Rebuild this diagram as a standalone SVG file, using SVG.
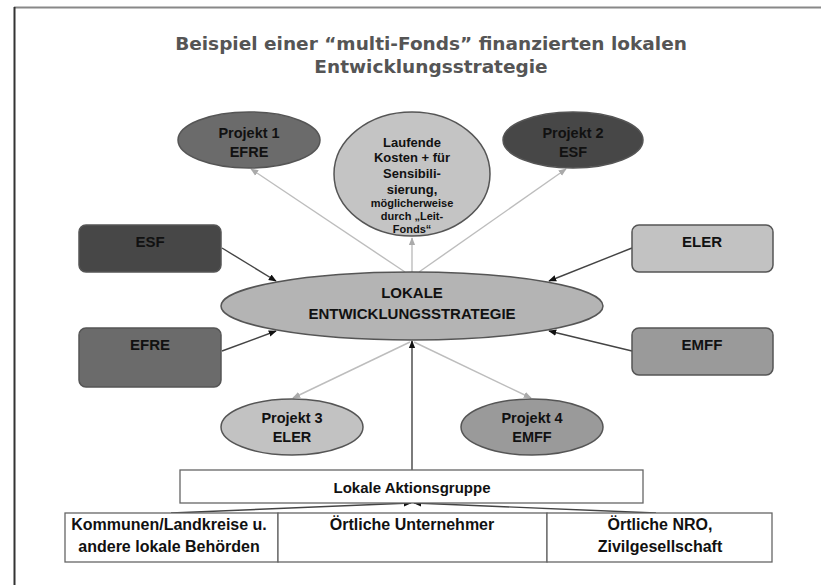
<svg xmlns="http://www.w3.org/2000/svg" width="821" height="585" viewBox="0 0 821 585">
<style>
.t{font-family:"Liberation Sans",Arial,sans-serif;font-weight:bold;fill:#111;text-anchor:middle}
.title{font-family:"DejaVu Sans",Verdana,sans-serif;font-weight:bold;fill:#555;font-size:18.5px;text-anchor:middle}
.sh{stroke:#555;stroke-width:1.5}
.lg{stroke:#bdbdbd;stroke-width:1.4;fill:none}
.dk{stroke:#444;stroke-width:1.4;fill:none}
.box{fill:#fff;stroke:#666;stroke-width:1.3}
</style>
<defs>
<marker id="ag" viewBox="0 0 10 10" refX="9" refY="5" markerWidth="8" markerHeight="8" markerUnits="userSpaceOnUse" orient="auto"><path d="M0,1 L10,5 L0,9 z" fill="#aaa"/></marker>
<marker id="ad" viewBox="0 0 10 10" refX="9" refY="5" markerWidth="8" markerHeight="8" markerUnits="userSpaceOnUse" orient="auto"><path d="M0,1 L10,5 L0,9 z" fill="#111"/></marker>
</defs>
<rect width="821" height="585" fill="#fff"/>
<line x1="14" y1="7.5" x2="821" y2="7.5" stroke="#888" stroke-width="2"/>
<line x1="14.5" y1="7" x2="14.5" y2="585" stroke="#333" stroke-width="2"/>
<text class="title" x="431" y="50">Beispiel einer “multi-Fonds” finanzierten lokalen</text>
<text class="title" x="431" y="73">Entwicklungsstrategie</text>
<g id="connectors">
<line class="lg" x1="405" y1="272" x2="251" y2="169" marker-end="url(#ag)"/>
<line class="lg" x1="412" y1="272" x2="412" y2="238" marker-end="url(#ag)"/>
<line class="lg" x1="419" y1="272" x2="566" y2="169" marker-end="url(#ag)"/>
<line class="lg" x1="410" y1="342" x2="293" y2="398" marker-end="url(#ag)"/>
<line class="lg" x1="414" y1="342" x2="531" y2="398" marker-end="url(#ag)"/>
<line class="dk" x1="222" y1="248" x2="276" y2="281" marker-end="url(#ad)"/>
<line class="dk" x1="222" y1="351" x2="276" y2="331" marker-end="url(#ad)"/>
<line class="dk" x1="632" y1="248" x2="549" y2="281" marker-end="url(#ad)"/>
<line class="dk" x1="632" y1="351" x2="549" y2="331" marker-end="url(#ad)"/>
<line class="dk" x1="412" y1="470" x2="412" y2="341" marker-end="url(#ad)" stroke-width="1.6"/>
<line class="dk" x1="171" y1="513" x2="411" y2="503" marker-end="url(#ad)"/>
<line class="dk" x1="656" y1="513" x2="414" y2="503" marker-end="url(#ad)"/>
</g>
<g id="projekt1"><ellipse class="sh" cx="249" cy="140" rx="71" ry="28" fill="#6b6b6b"/><text class="t" font-size="14.5" x="249" y="138">Projekt 1</text><text class="t" font-size="14.5" x="249" y="157">EFRE</text></g>
<g id="laufende"><ellipse class="sh" cx="412" cy="174" rx="78" ry="62" fill="#c4c4c4"/>
<text class="t" font-size="13" x="412" y="147">Laufende</text>
<text class="t" font-size="13" x="412" y="162">Kosten + für</text>
<text class="t" font-size="13" x="412" y="178">Sensibili-</text>
<text class="t" font-size="13" x="412" y="194">sierung,</text>
<text class="t" font-size="11" x="412" y="207">möglicherweise</text>
<text class="t" font-size="11" x="412" y="220">durch „Leit-</text>
<text class="t" font-size="11" x="412" y="233">Fonds“</text></g>
<g id="projekt2"><ellipse class="sh" cx="573" cy="140" rx="70" ry="28" fill="#474747"/><text class="t" font-size="14.5" x="573" y="138">Projekt 2</text><text class="t" font-size="14.5" x="573" y="157">ESF</text></g>
<g id="esf"><rect class="sh" x="79" y="225" width="142" height="47" rx="7" fill="#474747"/><text class="t" font-size="15" x="150" y="247">ESF</text></g>
<g id="efre"><rect class="sh" x="79" y="328" width="142" height="59" rx="7" fill="#6b6b6b"/><text class="t" font-size="15" x="150" y="350">EFRE</text></g>
<g id="eler"><rect class="sh" x="632" y="225" width="141" height="47" rx="7" fill="#c2c2c2"/><text class="t" font-size="15" x="702" y="247">ELER</text></g>
<g id="emff"><rect class="sh" x="632" y="328" width="141" height="47" rx="7" fill="#9a9a9a"/><text class="t" font-size="15" x="702" y="350">EMFF</text></g>
<g id="strategie"><ellipse class="sh" cx="412" cy="306" rx="191" ry="34" fill="#b4b4b4"/><text class="t" font-size="15" x="412" y="298">LOKALE</text><text class="t" font-size="15" x="412" y="319">ENTWICKLUNGSSTRATEGIE</text></g>
<g id="projekt3"><ellipse class="sh" cx="292" cy="427" rx="71" ry="28" fill="#c2c2c2"/><text class="t" font-size="14.5" x="292" y="423">Projekt 3</text><text class="t" font-size="14.5" x="292" y="442">ELER</text></g>
<g id="projekt4"><ellipse class="sh" cx="532" cy="427" rx="71" ry="28" fill="#9a9a9a"/><text class="t" font-size="14.5" x="532" y="423">Projekt 4</text><text class="t" font-size="14.5" x="532" y="442">EMFF</text></g>
<g id="lag"><rect class="box" x="180" y="470" width="463" height="33"/><text class="t" font-size="15" x="412" y="493">Lokale Aktionsgruppe</text></g>
<g id="kommunen"><rect class="box" x="65" y="513" width="213" height="49"/><text class="t" font-size="16" x="169" y="530">Kommunen/Landkreise u.</text><text class="t" font-size="16" x="169" y="552">andere lokale Behörden</text></g>
<g id="unternehmer"><rect class="box" x="278" y="513" width="269" height="49"/><text class="t" font-size="16" x="412" y="530">Örtliche Unternehmer</text></g>
<g id="nro"><rect class="box" x="547" y="513" width="225" height="49"/><text class="t" font-size="16" x="660" y="530">Örtliche NRO,</text><text class="t" font-size="16" x="660" y="552">Zivilgesellschaft</text></g>
</svg>
